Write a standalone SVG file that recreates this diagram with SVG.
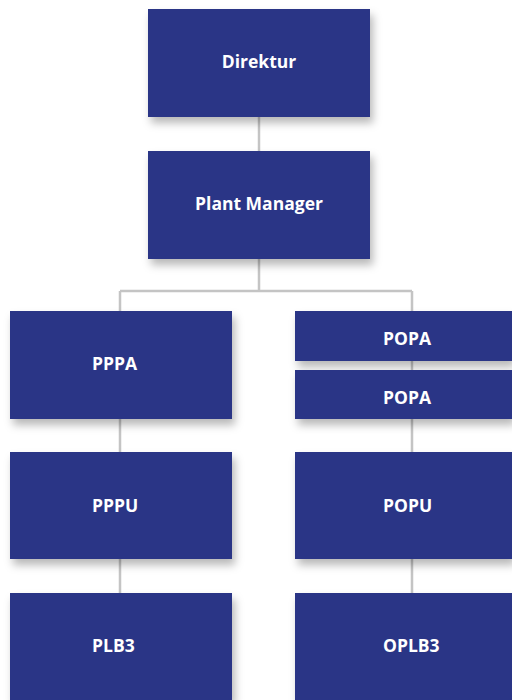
<svg xmlns="http://www.w3.org/2000/svg" width="512" height="700" viewBox="0 0 512 700">
<defs>
<filter id="sh" x="-10%" y="-20%" width="130%" height="150%">
<feDropShadow dx="3" dy="6" stdDeviation="4" flood-color="#000" flood-opacity="0.28"/>
</filter>
<style>
.box{fill:#2a3486;filter:url(#sh)}
.lbl{fill:#ffffff;font-family:"Open Sans","Liberation Sans",sans-serif;font-weight:bold;font-size:17.5px;text-anchor:middle}
.st{text-anchor:start}
.ln{stroke:#c4c4c4;stroke-width:2.5;fill:none}
</style>
</defs>
<rect width="512" height="700" fill="#ffffff"/>
<g id="connectors">
<path class="ln" d="M259 117V151"/>
<path class="ln" d="M259 259V291M120 291H412M120 291V311M412 291V311"/>
<path class="ln" d="M412 359V370"/>
<path class="ln" d="M120 419V452M120 559V593"/>
<path class="ln" d="M412 419V452M412 559V593"/>
</g>
<g id="direktur"><rect class="box" x="148" y="9" width="222" height="108"/><text class="lbl" x="259" y="68">Direktur</text></g>
<g id="plant-manager"><rect class="box" x="148" y="151" width="222" height="108"/><text class="lbl" x="259" y="210">Plant Manager</text></g>
<g id="pppa"><rect class="box" x="10" y="311" width="222" height="108"/><text class="lbl st" x="92" y="370">PPPA</text></g>
<g id="popa1"><rect class="box" x="295" y="311" width="217" height="50"/><text class="lbl st" x="383" y="345">POPA</text></g>
<g id="popa2"><rect class="box" x="295" y="370" width="217" height="49"/><text class="lbl st" x="383" y="404">POPA</text></g>
<g id="pppu"><rect class="box" x="10" y="452" width="222" height="107"/><text class="lbl st" x="92" y="512">PPPU</text></g>
<g id="popu"><rect class="box" x="295" y="452" width="217" height="107"/><text class="lbl st" x="383" y="512">POPU</text></g>
<g id="plb3"><rect class="box" x="10" y="593" width="222" height="107"/><text class="lbl st" x="92" y="652">PLB3</text></g>
<g id="oplb3"><rect class="box" x="295" y="593" width="217" height="107"/><text class="lbl st" x="383" y="652">OPLB3</text></g>
</svg>
